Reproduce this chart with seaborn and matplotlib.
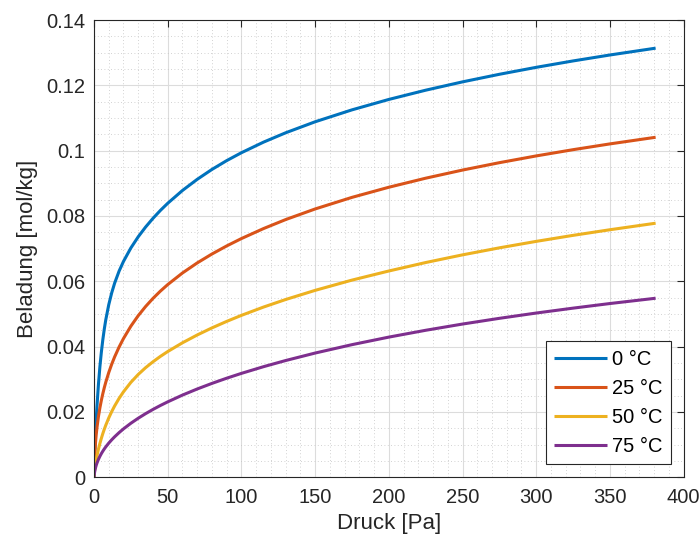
import numpy as np
import pandas as pd
import seaborn as sns
import matplotlib
matplotlib.use("Agg")
import matplotlib.pyplot as plt
from matplotlib.ticker import FixedLocator, MultipleLocator, FixedFormatter

# ---- data ----
pressure = [0, 0.25, 0.5, 1, 1.5, 2, 3, 4, 5, 6, 7, 8, 10, 12, 14, 17, 20, 25, 30, 35, 40, 45,
            50, 60, 70, 80, 90, 100, 115, 130, 150, 175, 200, 225, 250, 275, 300, 325, 350, 381]
load_0C = [0, 0.00439, 0.00770, 0.01317, 0.01774, 0.02172, 0.02842, 0.03389, 0.03839, 0.04220,
           0.04546, 0.04826, 0.05284, 0.05647, 0.05946, 0.06311, 0.06610, 0.07021, 0.07364, 0.07662,
           0.07928, 0.08169, 0.08389, 0.08781, 0.09122, 0.09425, 0.09695, 0.09937, 0.10261, 0.10547,
           0.10884, 0.11249, 0.11568, 0.11851, 0.12106, 0.12338, 0.12551, 0.12747, 0.12929, 0.13138]
load_25C = [0, 0.00454, 0.00701, 0.01049, 0.01309, 0.01520, 0.01858, 0.02129, 0.02361, 0.02565,
            0.02748, 0.02914, 0.03207, 0.03462, 0.03688, 0.03987, 0.04249, 0.04627, 0.04949, 0.05229,
            0.05477, 0.05699, 0.05900, 0.06255, 0.06563, 0.06836, 0.07083, 0.07309, 0.07615, 0.07890,
            0.08215, 0.08570, 0.08880, 0.09157, 0.09406, 0.09632, 0.09839, 0.10030, 0.10207, 0.10410]
load_50C = [0, 0.00143, 0.00243, 0.00404, 0.00538, 0.00656, 0.00861, 0.01039, 0.01197, 0.01342,
            0.01475, 0.01597, 0.01817, 0.02011, 0.02185, 0.02416, 0.02618, 0.02907, 0.03149, 0.03356,
            0.03537, 0.03701, 0.03850, 0.04118, 0.04357, 0.04574, 0.04773, 0.04958, 0.05212, 0.05443,
            0.05723, 0.06037, 0.06316, 0.06575, 0.06810, 0.07025, 0.07223, 0.07407, 0.07579, 0.07779]
load_75C = [0, 0.00113, 0.00184, 0.00287, 0.00368, 0.00436, 0.00549, 0.00644, 0.00727, 0.00802,
            0.00870, 0.00933, 0.01047, 0.01148, 0.01241, 0.01368, 0.01483, 0.01655, 0.01809, 0.01949,
            0.02078, 0.02198, 0.02310, 0.02517, 0.02704, 0.02875, 0.03034, 0.03182, 0.03387, 0.03575,
            0.03804, 0.04061, 0.04292, 0.04501, 0.04692, 0.04867, 0.05029, 0.05179, 0.05320, 0.05482]
series_labels = ["0 °C", "25 °C", "50 °C", "75 °C"]
series_colors = ["#0072BD", "#D95319", "#EDB120", "#7E2F8E"]
x_ticks = [0, 50, 100, 150, 200, 250, 300, 350, 400]
x_ticklabels = ["0", "50", "100", "150", "200", "250", "300", "350", "400"]
y_ticks = [0, 0.02, 0.04, 0.06, 0.08, 0.10, 0.12, 0.14]
y_ticklabels = ["0", "0.02", "0.04", "0.06", "0.08", "0.1", "0.12", "0.14"]
x_label = "Druck [Pa]"
y_label = "Beladung [mol/kg]"

frames = []
for lab, vals in zip(series_labels, [load_0C, load_25C, load_50C, load_75C]):
    frames.append(pd.DataFrame({"p": pressure, "q": vals, "T": lab}))
df = pd.concat(frames, ignore_index=True)

sns.set_theme(style="white")
plt.rcParams["font.family"] = ["Liberation Sans", "DejaVu Sans"]
axis_col = "#262626"
tick_fs = 14.5
label_fs = 16

fig = plt.figure(figsize=(7.0, 5.45), dpi=100)
ax = fig.add_axes([0.1343, 0.1242, 0.8423, 0.8391])

sns.lineplot(data=df, x="p", y="q", hue="T", hue_order=series_labels,
             palette=series_colors, linewidth=2.2, errorbar=None, sort=True, ax=ax)
for ln in ax.get_lines():
    ln.set_solid_joinstyle("round")
    ln.set_solid_capstyle("butt")

ax.set_xlim(0, 400)
ax.set_ylim(0, 0.14)
ax.xaxis.set_major_locator(FixedLocator(x_ticks))
ax.xaxis.set_major_formatter(FixedFormatter(x_ticklabels))
ax.yaxis.set_major_locator(FixedLocator(y_ticks))
ax.yaxis.set_major_formatter(FixedFormatter(y_ticklabels))
ax.xaxis.set_minor_locator(MultipleLocator(10))
ax.yaxis.set_minor_locator(MultipleLocator(0.005))

ax.grid(which="major", color="#dcdcdc", linestyle="-", linewidth=0.8)
ax.grid(which="minor", color="#c4c4c4", linestyle=(0, (1, 3)), linewidth=0.6)
ax.set_axisbelow(True)

for s in ax.spines.values():
    s.set_visible(True)
    s.set_color(axis_col)
    s.set_linewidth(0.8)

ax.tick_params(which="major", direction="in", length=5, width=0.8, color=axis_col,
               top=True, right=True, labelsize=tick_fs, labelcolor=axis_col)
ax.tick_params(axis="x", which="major", pad=8)
ax.tick_params(axis="y", which="major", pad=6.5)
ax.tick_params(which="minor", length=0)

ax.set_xlabel(x_label, fontsize=label_fs, color=axis_col, labelpad=4)
ax.set_ylabel(y_label, fontsize=label_fs, color=axis_col, labelpad=6)

handles, labels = ax.get_legend_handles_labels()
leg = ax.legend(handles, labels, loc="lower right", fontsize=tick_fs, frameon=True,
                fancybox=False, framealpha=1, edgecolor=axis_col, handlelength=2.6,
                borderaxespad=0.65, labelspacing=0.5, handletextpad=0.25, borderpad=0.42)
leg.get_frame().set_linewidth(0.8)
for t in leg.get_texts():
    t.set_color("black")

fig.savefig("out.png", dpi=100)
